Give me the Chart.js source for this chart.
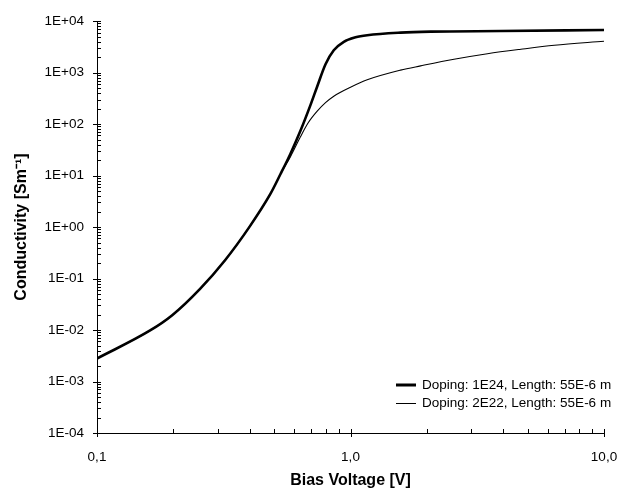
<!DOCTYPE html>
<html><head><meta charset="utf-8">
<script src="https://cdn.jsdelivr.net/npm/chart.js@4.4.1/dist/chart.umd.min.js"></script>
<style>html,body{margin:0;padding:0;background:#fff}#wrap{width:634px;height:492px}</style>
</head><body><div id="wrap"><canvas id="c" width="634" height="492"></canvas></div>
<script>
const seriesLabels = ['Doping: 1E24, Length: 55E-6 m', 'Doping: 2E22, Length: 55E-6 m'];
const thickX = [0.1, 0.162, 0.198, 0.255, 0.32, 0.40, 0.483, 0.529, 0.579, 0.634, 0.695, 0.739, 0.797, 0.859, 0.941, 1.047, 1.164, 1.576, 2.07, 3.92, 10.0];
const thickY = [0.0028, 0.0098, 0.0194, 0.063, 0.227, 1.02, 4.4, 10.6, 26.3, 73, 233, 538, 1457, 2716, 3963, 4842, 5316, 5967, 6238, 6410, 6700];
const thinX = [0.1, 0.162, 0.198, 0.255, 0.32, 0.40, 0.483, 0.529, 0.579, 0.634, 0.682, 0.739, 0.797, 0.859, 1.0, 1.164, 1.576, 1.89, 2.56, 3.47, 4.70, 6.37, 10.0];
const thinY = [0.0028, 0.0098, 0.0194, 0.063, 0.227, 1.02, 4.4, 10.6, 23.0, 56, 107, 178, 260, 348, 519, 724, 1115, 1350, 1820, 2330, 2840, 3390, 4050];
const xTickValues = [0.1, 1, 10];
const xTickLabels = ['0,1', '1,0', '10,0'];
const yTickValues = [1e-4, 1e-3, 1e-2, 1e-1, 1, 10, 100, 1000, 10000];
const yTickLabels = ['1E-04', '1E-03', '1E-02', '1E-01', '1E+00', '1E+01', '1E+02', '1E+03', '1E+04'];

const FONT = 'Liberation Sans, Arial, sans-serif';
const lineWidths = [2.6, 1.1];

function minorValues(majors) {
  const out = [];
  for (let i = 0; i < majors.length; i++) {
    out.push(majors[i]);
    if (i < majors.length - 1) for (let k = 2; k <= 9; k++) out.push(majors[i] * k);
  }
  return out;
}
function labelFor(values, labels, v) {
  for (let i = 0; i < values.length; i++) if (Math.abs(v / values[i] - 1) < 1e-6) return labels[i];
  return '';
}

const tickPlugin = {
  id: 'ticksAndLegend',
  afterDraw(chart) {
    const ctx = chart.ctx, a = chart.chartArea;
    const xs = chart.scales.x, ys = chart.scales.y;
    ctx.save();
    ctx.strokeStyle = '#000'; ctx.lineWidth = 1;
    ctx.beginPath();
    minorValues(yTickValues).forEach(v => {
      const p = Math.round(ys.getPixelForValue(v)) + 0.5;
      const major = labelFor(yTickValues, yTickLabels, v) !== '';
      ctx.moveTo(a.left - (major ? 4 : 0), p); ctx.lineTo(a.left + 4, p);
    });
    minorValues(xTickValues).forEach(v => {
      const p = Math.round(xs.getPixelForValue(v)) + 0.5;
      const major = labelFor(xTickValues, xTickLabels, v) !== '';
      ctx.moveTo(p, a.bottom + (major ? 4 : 0)); ctx.lineTo(p, a.bottom - 4);
    });
    ctx.stroke();
    // legend
    ctx.font = '13.5px ' + FONT;
    ctx.fillStyle = '#000';
    ctx.textBaseline = 'middle';
    ctx.textAlign = 'left';
    chart.data.datasets.forEach((ds, i) => {
      const y = Math.round(a.bottom - 48 + i * 18);
      const tx = a.right - 182;
      const ly = ds.borderWidth < 2 ? y + 0.5 : y;
      ctx.beginPath();
      ctx.lineWidth = ds.borderWidth < 2 ? 1 : 3;
      ctx.moveTo(tx - 26, ly); ctx.lineTo(tx - 6, ly);
      ctx.stroke();
      ctx.fillText(ds.label, tx, y);
    });
    ctx.restore();
  }
};

const toPts = (xa, ya) => xa.map((x, i) => ({x: x, y: ya[i]}));

new Chart(document.getElementById('c'), {
  type: 'line',
  data: {
    datasets: [
      {label: seriesLabels[0], data: toPts(thickX, thickY), borderColor: '#000', borderWidth: lineWidths[0], pointRadius: 0, cubicInterpolationMode: 'monotone', fill: false},
      {label: seriesLabels[1], data: toPts(thinX, thinY), borderColor: '#000', borderWidth: lineWidths[1], pointRadius: 0, cubicInterpolationMode: 'monotone', fill: false}
    ]
  },
  options: {
    responsive: false, animation: false, devicePixelRatio: 1,
    layout: {padding: {left: 0, right: 30, top: 19, bottom: 0}},
    plugins: {legend: {display: false}, tooltip: {enabled: false}},
    scales: {
      x: {
        type: 'logarithmic', min: 0.1, max: 10,
        afterBuildTicks: s => { s.ticks = minorValues(xTickValues).map(v => ({value: v})); },
        afterFit: s => { s.height = 59; },
        grid: {display: false, drawTicks: false},
        border: {display: true, color: '#000', width: 1},
        ticks: {autoSkip: false, maxRotation: 0, padding: 16, color: '#000', font: {family: FONT, size: 13.5},
          callback: v => labelFor(xTickValues, xTickLabels, v)},
        title: {display: true, text: 'Bias Voltage [V]', color: '#000', font: {family: FONT, size: 16, weight: 'bold'}, padding: {top: 4, bottom: 2}}
      },
      y: {
        type: 'logarithmic', min: 1e-4, max: 1e4,
        afterBuildTicks: s => { s.ticks = minorValues(yTickValues).map(v => ({value: v})); },
        afterFit: s => { s.width = 97; },
        grid: {display: false, drawTicks: false},
        border: {display: true, color: '#000', width: 1},
        ticks: {autoSkip: false, padding: 13, color: '#000', font: {family: FONT, size: 13.5},
          callback: v => labelFor(yTickValues, yTickLabels, v)},
        title: {display: true, text: 'Conductivity [Sm⁻¹]', color: '#000', font: {family: FONT, size: 16, weight: 'bold'}, padding: {top: 12, bottom: 0}}
      }
    }
  },
  plugins: [tickPlugin]
});
</script></body></html>
